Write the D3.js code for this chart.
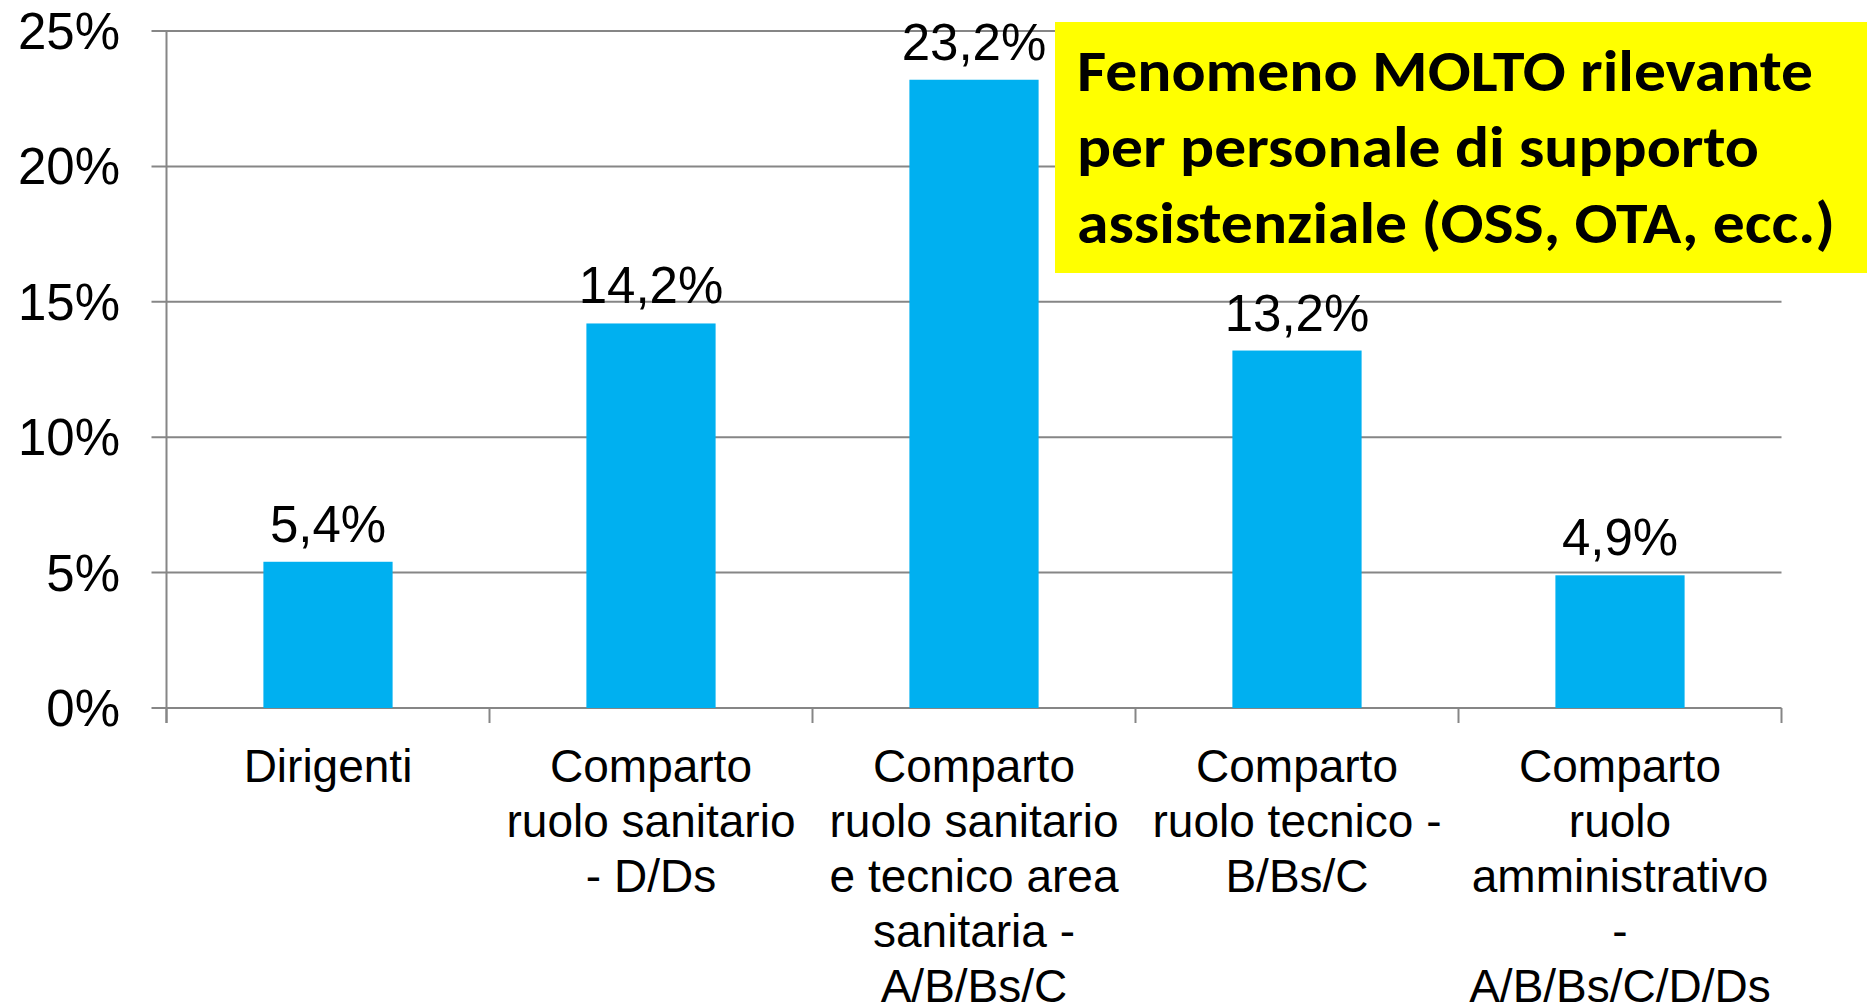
<!DOCTYPE html>
<html>
<head>
<meta charset="utf-8">
<script src="https://cdn.jsdelivr.net/npm/d3@7"></script>
<style>
  html, body { margin: 0; padding: 0; background: #ffffff; }
  svg { display: block; }
</style>
</head>
<body>
<script>
// ---- data ----
const categories = [
  "Dirigenti",
  "Comparto\nruolo sanitario\n- D/Ds",
  "Comparto\nruolo sanitario\ne tecnico area\nsanitaria -\nA/B/Bs/C",
  "Comparto\nruolo tecnico -\nB/Bs/C",
  "Comparto\nruolo\namministrativo\n-\nA/B/Bs/C/D/Ds"
];
const values = [5.4, 14.2, 23.2, 13.2, 4.9];
const yTicks = [0, 5, 10, 15, 20, 25];
const titleLines = [
  "Fenomeno MOLTO rilevante",
  "per personale di supporto",
  "assistenziale (OSS, OTA, ecc.)"
];

// ---- layout ----
const W = 1867, H = 1007;
const mLeft = 166.5, mRight = 1781.5, mTop = 31, mBottom = 708;

const svg = d3.select("body").append("svg")
  .attr("width", W).attr("height", H);
svg.append("rect").attr("width", W).attr("height", H).attr("fill", "#ffffff");

const x = d3.scaleBand().domain(categories).range([mLeft, mRight])
  .paddingInner(0.6).paddingOuter(0.3);
const y = d3.scaleLinear().domain([0, 25]).range([mBottom, mTop]);

const gridColor = "#868686";
const it = d3.formatLocale({decimal: ",", thousands: ".", grouping: [3], currency: ["", "€"]});
const fmt1 = it.format(".1f");

// gridlines
svg.append("g").selectAll("line").data(yTicks).join("line")
  .attr("x1", mLeft - 15).attr("x2", mRight)
  .attr("y1", d => y(d)).attr("y2", d => y(d))
  .attr("stroke", gridColor).attr("stroke-width", 2);

// y axis line
svg.append("line")
  .attr("x1", mLeft).attr("x2", mLeft)
  .attr("y1", y(25)).attr("y2", mBottom + 15)
  .attr("stroke", gridColor).attr("stroke-width", 2);

// bottom ticks at band boundaries
const boundaries = categories.map(c => x(c) - x.step() * x.paddingInner() / 2);
boundaries[0] = mLeft;
boundaries.push(mRight);
svg.append("g").selectAll("line").data(boundaries).join("line")
  .attr("x1", d => d).attr("x2", d => d)
  .attr("y1", mBottom).attr("y2", mBottom + 15)
  .attr("stroke", gridColor).attr("stroke-width", 2);

// y tick labels
svg.append("g").selectAll("text").data(yTicks).join("text")
  .attr("x", 120).attr("y", d => y(d) + 18)
  .attr("text-anchor", "end")
  .attr("font-family", "'Liberation Sans', Arial, sans-serif")
  .attr("font-size", 51).attr("fill", "#000")
  .text(d => d + "%");

// bars
svg.append("g").selectAll("rect").data(values).join("rect")
  .attr("x", (d, i) => x(categories[i]))
  .attr("width", x.bandwidth())
  .attr("y", d => y(d))
  .attr("height", d => mBottom - y(d))
  .attr("fill", "#00B0F0");

// value labels
svg.append("g").selectAll("text").data(values).join("text")
  .attr("x", (d, i) => x(categories[i]) + x.bandwidth() / 2)
  .attr("y", d => y(d) - 20)
  .attr("text-anchor", "middle")
  .attr("font-family", "'Liberation Sans', Arial, sans-serif")
  .attr("font-size", 51).attr("fill", "#000")
  .text(d => fmt1(d) + "%");

// category labels
const cat = svg.append("g").selectAll("text").data(categories).join("text")
  .attr("text-anchor", "middle")
  .attr("font-family", "'Liberation Sans', Arial, sans-serif")
  .attr("font-size", 46).attr("fill", "#000");
cat.each(function(c) {
  const cx = x(c) + x.bandwidth() / 2;
  d3.select(this).selectAll("tspan").data(c.split("\n")).join("tspan")
    .attr("x", cx)
    .attr("y", (l, j) => 782 + j * 55)
    .text(l => l);
});

// yellow title box
svg.append("rect")
  .attr("x", 1055).attr("y", 22).attr("width", 812).attr("height", 251)
  .attr("fill", "#FFFF00");
const lineWidths = [736, 682, 758];
svg.append("g").selectAll("text").data(titleLines).join("text")
  .attr("x", 1077).attr("y", (d, i) => 91 + i * 76)
  .attr("font-family", "Carlito, Lato, 'Open Sans', sans-serif")
  .attr("font-weight", "bold")
  .attr("font-size", 58).attr("fill", "#000")
  .attr("textLength", (d, i) => lineWidths[i])
  .attr("lengthAdjust", "spacingAndGlyphs")
  .text(d => d);
</script>
</body>
</html>
